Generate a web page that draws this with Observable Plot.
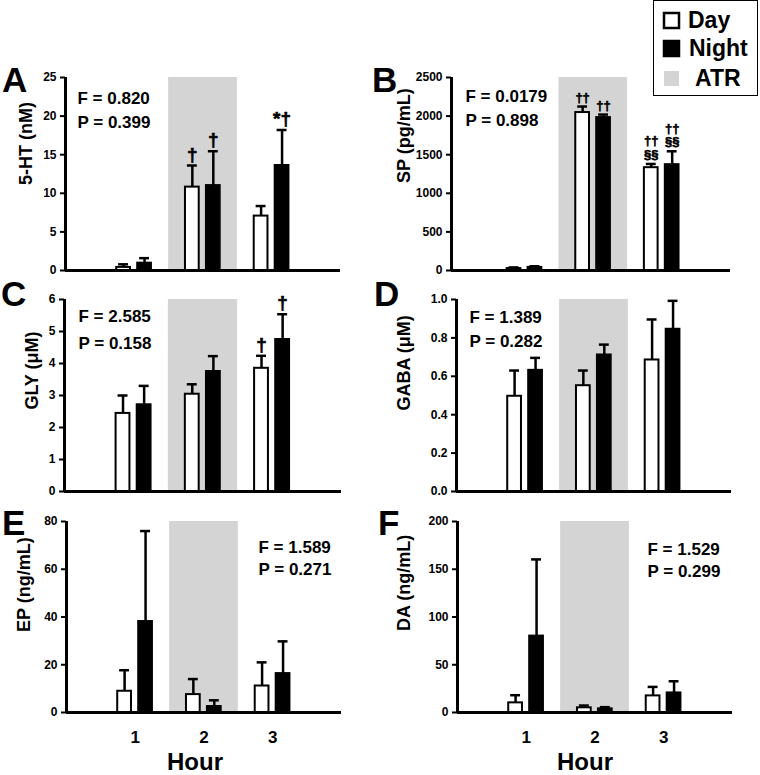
<!DOCTYPE html>
<html>
<head>
<meta charset="utf-8">
<script src="https://cdn.jsdelivr.net/npm/d3@7"></script>
<script src="https://cdn.jsdelivr.net/npm/@observablehq/plot@0.6"></script>
<style>
  body { margin: 0; background: #fff; }
  #chart { position: relative; width: 760px; height: 775px; overflow: hidden;
           font-family: "Liberation Sans", Arial, sans-serif; font-weight: bold; }
  .panel { position: absolute; }
  #overlay { position: absolute; left: 0; top: 0; pointer-events: none; }
</style>
</head>
<body>
<div id="chart"></div>
<script>
// ---------- data ----------
const hours = [1, 2, 3];
const panelLetters = ["A", "B", "C", "D", "E", "F"];
const yTitles = ["5-HT (nM)", "SP (pg/mL)", "GLY (\u03bcM)", "GABA (\u03bcM)", "EP (ng/mL)", "DA (ng/mL)"];
const fValues = ["0.820", "0.0179", "2.585", "1.389", "1.589", "1.529"];
const pValues = ["0.399", "0.898", "0.158", "0.282", "0.271", "0.299"];
const legendLabels = ["Day", "Night", "ATR"];
const xTickLabels = [1, 2, 3];
const xTitle = "Hour";

// A: 5-HT
const htTicks = [0, 5, 10, 15, 20, 25];
const htDay = [0.4, 10.8, 7.05];
const htDaySE = [0.4, 2.8, 1.3];
const htNight = [0.95, 11.0, 13.6];
const htNightSE = [0.65, 4.45, 4.6];
const htDayMarks = ["", "\u2020", ""];
const htNightMarks = ["", "\u2020", "*\u2020"];

// B: SP
const spTicks = [0, 500, 1000, 1500, 2000, 2500];
const spDay = [25, 2046, 1332];
const spDaySE = [15, 78, 48];
const spNight = [40, 1981, 1371];
const spNightSE = [15, 39, 173];
const spDayMarks = ["", "\u2020\u2020", "\u2020\u2020\n\u00a7\u00a7"];
const spNightMarks = ["", "\u2020\u2020", "\u2020\u2020\n\u00a7\u00a7"];

// C: GLY
const glyTicks = [0, 1, 2, 3, 4, 5, 6];
const glyDay = [2.44, 3.04, 3.85];
const glyDaySE = [0.56, 0.31, 0.39];
const glyNight = [2.71, 3.75, 4.75];
const glyNightSE = [0.59, 0.48, 0.79];
const glyDayMarks = ["", "", "\u2020"];
const glyNightMarks = ["", "", "\u2020"];

// D: GABA
const gabaTicks = [0, 0.2, 0.4, 0.6, 0.8, 1.0];
const gabaDay = [0.496, 0.551, 0.685];
const gabaDaySE = [0.134, 0.079, 0.211];
const gabaNight = [0.631, 0.711, 0.845];
const gabaNightSE = [0.065, 0.054, 0.148];
const gabaDayMarks = ["", "", ""];
const gabaNightMarks = ["", "", ""];

// E: EP
const epTicks = [0, 20, 40, 60, 80];
const epDay = [8.9, 7.5, 11.1];
const epDaySE = [8.8, 6.5, 9.9];
const epNight = [38.1, 2.5, 16.3];
const epNightSE = [37.9, 2.6, 13.5];
const epDayMarks = ["", "", ""];
const epNightMarks = ["", "", ""];

// F: DA
const daTicks = [0, 50, 100, 150, 200];
const daDay = [10.1, 4.9, 17.4];
const daDaySE = [8.0, 2.4, 9.4];
const daNight = [80, 3.8, 20.5];
const daNightSE = [80.3, 1.8, 12.2];
const daDayMarks = ["", "", ""];
const daNightMarks = ["", "", ""];

// ---------- assemble ----------
const plain = d => String(d);
const panels = [
  {ticks: htTicks, day: htDay, daySE: htDaySE, night: htNight, nightSE: htNightSE, dm: htDayMarks, nm: htNightMarks},
  {ticks: spTicks, day: spDay, daySE: spDaySE, night: spNight, nightSE: spNightSE, dm: spDayMarks, nm: spNightMarks},
  {ticks: glyTicks, day: glyDay, daySE: glyDaySE, night: glyNight, nightSE: glyNightSE, dm: glyDayMarks, nm: glyNightMarks},
  {ticks: gabaTicks, day: gabaDay, daySE: gabaDaySE, night: gabaNight, nightSE: gabaNightSE, dm: gabaDayMarks, nm: gabaNightMarks, fmt: d3.format(".1f")},
  {ticks: epTicks, day: epDay, daySE: epDaySE, night: epNight, nightSE: epNightSE, dm: epDayMarks, nm: epNightMarks},
  {ticks: daTicks, day: daDay, daySE: daDaySE, night: daNight, nightSE: daNightSE, dm: daDayMarks, nm: daNightMarks}
];

// layout (positions/styles only)
const layout = [
  {left: 0,   top: 60,  h: 220, ml: 65, mr: 40, mt: 17, mb: 10, x0: 0,      ldx: -39,   ldy: 11, sdx: 12,  sdy: 10, lh: 1.4, sym: 19},
  {left: 380, top: 60,  h: 220, ml: 71, mr: 30, mt: 17, mb: 10, x0: -0.066, ldx: -47,   ldy: 9,  sdx: 14,  sdy: 8,  lh: 1.4, sym: 13},
  {left: 0,   top: 280, h: 220, ml: 64, mr: 39, mt: 19, mb: 9,  x0: 0,      ldx: -32,   ldy: 14, sdx: 14,  sdy: 4,  lh: 1.55, sym: 19},
  {left: 380, top: 280, h: 220, ml: 76, mr: 29, mt: 19, mb: 9,  x0: 0,      ldx: -52.5, ldy: 15, sdx: 13,  sdy: 7,  lh: 1.4, sym: 19},
  {left: 0,   top: 500, h: 275, ml: 66, mr: 39, mt: 21, mb: 63, x0: 0,      ldx: -42.5, ldy: 15, sdx: 192, sdy: 16, lh: 1.3, sym: 19, bottom: true, hdx: -9},
  {left: 380, top: 500, h: 275, ml: 77, mr: 28, mt: 21, mb: 63, x0: 0,      ldx: -53.5, ldy: 14, sdx: 190, sdy: 18, lh: 1.3, sym: 19, bottom: true, hdx: -10}
];

const FONT = '"Liberation Sans", Arial, Helvetica, sans-serif';
const GRAY = "#d4d4d4";
const chart = document.getElementById("chart");

panels.forEach((p, i) => {
  const L = layout[i];
  const yMax = p.ticks[p.ticks.length - 1];
  const rows = [];
  hours.forEach((h, j) => {
    rows.push({group: "Day", c: h - 0.155, mean: p.day[j], top: p.day[j] + p.daySE[j], mark: p.dm[j]});
    rows.push({group: "Night", c: h + 0.15, mean: p.night[j], top: p.night[j] + p.nightSE[j], mark: p.nm[j]});
  });
  const dayRows = rows.filter(d => d.group === "Day");
  const nightRows = rows.filter(d => d.group === "Night");
  const hw = 0.1, cw = 0.072;

  const marks = [
    Plot.rect([0], {x1: 1.5, x2: 2.5, y1: 0, y2: yMax, fill: GRAY}),
    Plot.rect(dayRows, {x1: d => d.c - hw, x2: d => d.c + hw, y1: 0, y2: "mean", fill: "white", stroke: "black", strokeWidth: 2}),
    Plot.rect(nightRows, {x1: d => d.c - hw, x2: d => d.c + hw, y1: 0, y2: "mean", fill: "black", stroke: "black", strokeWidth: 2}),
    Plot.ruleX(rows, {x: "c", y1: "mean", y2: "top", stroke: "black", strokeWidth: 2.5}),
    Plot.ruleY(rows, {y: "top", x1: d => d.c - cw, x2: d => d.c + cw, stroke: "black", strokeWidth: 2.5}),
    Plot.text(rows.filter(d => d.mark), {x: "c", y: "top", text: "mark", lineAnchor: "bottom", dy: -5, fontSize: L.sym, fontWeight: "bold", lineHeight: 1.05, fill: "black", stroke: "black", strokeWidth: 0.6}),
    Plot.axisY({ticks: p.ticks, tickSize: 5, tickPadding: 4, fontSize: 12, fontWeight: "bold", strokeWidth: 2, label: null, tickFormat: p.fmt || plain}),
    Plot.ruleX([L.x0], {stroke: "black", strokeWidth: 3}),
    Plot.ruleY([0], {stroke: "black", strokeWidth: 3}),
    Plot.text([yTitles[i]], {frameAnchor: "left", rotate: -90, dx: L.ldx, dy: L.ldy, fontSize: 18, fontWeight: "bold", fill: "black"}),
    Plot.text([`F = ${fValues[i]}\nP = ${pValues[i]}`], {frameAnchor: "top-left", textAnchor: "start", lineAnchor: "top", dx: L.sdx, dy: L.sdy, fontSize: 17, fontWeight: "bold", lineHeight: L.lh, fill: "black"})
  ];
  if (L.bottom) {
    marks.push(Plot.axisX({ticks: xTickLabels, tickSize: 0, tickPadding: 18, fontSize: 17, fontWeight: "bold", label: null, tickFormat: plain}));
    marks.push(Plot.text([xTitle], {frameAnchor: "bottom", lineAnchor: "bottom", dy: 57, dx: L.hdx, fontSize: 24, fontWeight: "bold", fill: "black"}));
  }

  const svg = Plot.plot({
    width: 380,
    height: L.h,
    marginLeft: L.ml, marginRight: L.mr, marginTop: L.mt, marginBottom: L.mb,
    x: {domain: [L.x0, 4], label: null, axis: L.bottom ? undefined : null},
    y: {domain: [0, yMax], label: null},
    style: {fontFamily: FONT, fontWeight: "bold", color: "black", background: "transparent"},
    marks
  });
  const wrap = document.createElement("div");
  wrap.className = "panel";
  wrap.style.left = L.left + "px";
  wrap.style.top = L.top + "px";
  wrap.appendChild(svg);
  chart.appendChild(wrap);
});

// ---------- panel letters & legend (overlay) ----------
const letterPos = [[2, 92], [372, 92], [1, 306], [374, 306], [2, 535], [378, 535]];
const ns = "http://www.w3.org/2000/svg";
const ov = document.createElementNS(ns, "svg");
ov.setAttribute("id", "overlay");
ov.setAttribute("width", 760);
ov.setAttribute("height", 775);
ov.style.fontFamily = FONT;
ov.style.fontWeight = "bold";
panelLetters.forEach((t, i) => {
  const e = document.createElementNS(ns, "text");
  e.setAttribute("x", letterPos[i][0]);
  e.setAttribute("y", letterPos[i][1]);
  e.setAttribute("font-size", 35);
  e.textContent = t;
  ov.appendChild(e);
});
const box = document.createElementNS(ns, "rect");
box.setAttribute("x", 653.5); box.setAttribute("y", 0.5);
box.setAttribute("width", 104); box.setAttribute("height", 95);
box.setAttribute("fill", "white"); box.setAttribute("stroke", "black"); box.setAttribute("stroke-width", 1);
ov.appendChild(box);
const legendFill = ["white", "black", GRAY];
const legendStroke = ["black", "black", "none"];
const legendTop = [12, 40, 70];
const legendTextX = [688, 689, 695];
legendLabels.forEach((t, i) => {
  const r = document.createElementNS(ns, "rect");
  r.setAttribute("x", 664); r.setAttribute("y", legendTop[i] + 1);
  r.setAttribute("width", 15); r.setAttribute("height", 15);
  r.setAttribute("fill", legendFill[i]);
  r.setAttribute("stroke", legendStroke[i]);
  r.setAttribute("stroke-width", 2.5);
  ov.appendChild(r);
  const e = document.createElementNS(ns, "text");
  e.setAttribute("x", legendTextX[i]);
  e.setAttribute("y", legendTop[i] + 16);
  e.setAttribute("font-size", 23);
  e.textContent = t;
  ov.appendChild(e);
});
chart.appendChild(ov);
</script>
</body>
</html>
